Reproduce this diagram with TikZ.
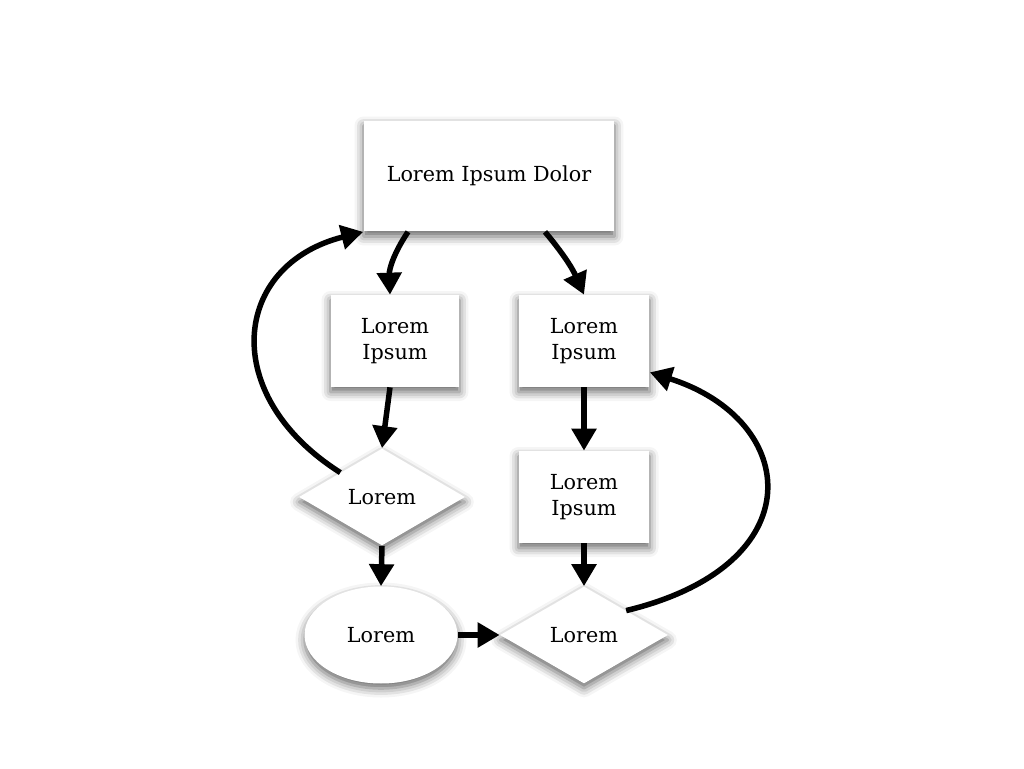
\documentclass[tikz,border=0pt]{standalone}
\usepackage{fontspec}
\setmainfont{DejaVu Serif}
\usetikzlibrary{shapes.geometric,shadows.blur,arrows.meta}
\tikzset{
  boxnode/.style={rectangle,fill=white,align=center,font=\fontsize{11.8}{15}\selectfont,
    blur shadow={shadow xshift=0pt,shadow yshift=-0.1cm,shadow blur radius=0.18cm,shadow opacity=60}},
  decision/.style={boxnode,diamond,inner sep=0pt},
  terminal/.style={boxnode,ellipse,inner sep=0pt},
  flow/.style={line width=0.11cm,-{Triangle[length=0.44cm,width=0.48cm]}}
}
\begin{document}
\begin{tikzpicture}[x=0.02cm,y=-0.02cm]
\path[use as bounding box] (0,0) rectangle (1024,768);
\node[boxnode,minimum width=5.02cm,minimum height=2.22cm] (top) at (489,176) {Lorem Ipsum Dolor};
\node[boxnode,minimum width=2.58cm,minimum height=1.84cm] (lbox) at (395,341) {Lorem\\Ipsum};
\node[boxnode,minimum width=2.62cm,minimum height=1.84cm] (rbox) at (584,341) {Lorem\\Ipsum};
\node[boxnode,minimum width=2.62cm,minimum height=1.84cm] (rbox2) at (584,497) {Lorem\\Ipsum};
\node[decision,minimum width=3.32cm,minimum height=1.94cm] (ldec) at (382,497) {Lorem};
\node[terminal,minimum width=3.06cm,minimum height=1.94cm] (term) at (381,635) {Lorem};
\node[decision,minimum width=3.36cm,minimum height=1.94cm] (rdec) at (584,635) {Lorem};
% straight runs
\draw[flow] ([xshift=-1.62cm]top.south) to[bend right=18] ([xshift=-0.1cm]lbox.north);
\draw[flow] ([xshift=1.12cm]top.south) to[bend left=8] (rbox.north);
\draw[flow] ([xshift=-0.1cm]lbox.south) -- (ldec.north);
\draw[flow] (ldec.south) -- (term.north);
\draw[flow] (term.east) -- (rdec.west);
\draw[flow] (rbox.south) -- (rbox2.north);
\draw[flow] (rbox2.south) -- (rdec.north);
% loops back
\draw[flow] (ldec.north west) .. controls (218,395) and (232,265) .. (top.south west);
\draw[flow] (rdec.north east) .. controls (815,565) and (800,420) .. ([yshift=0.3cm]rbox.south east);
\end{tikzpicture}
\end{document}
